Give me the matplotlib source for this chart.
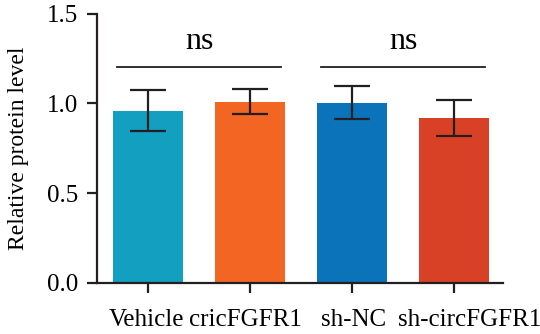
import matplotlib
matplotlib.use('Agg')
import matplotlib.pyplot as plt
import matplotlib.transforms as mtransforms
import numpy as np

# values
groups = ['Vehicle', 'cricFGFR1', 'sh-NC', 'sh-circFGFR1']
means = [0.96, 1.01, 1.005, 0.92]
errs = [0.115, 0.07, 0.093, 0.10]
colors = ['#139fc0', '#f26522', '#0b73b9', '#d94126']
brackets = [(0, 1, 'ns'), (2, 3, 'ns')]
bracket_y = 1.205

plt.rcParams['font.family'] = ['Liberation Serif', 'DejaVu Serif']

fig = plt.figure(figsize=(5.4, 3.34), dpi=100)
ax = fig.add_axes([0.179, 0.153, 0.752, 0.806])

x = np.arange(len(groups))
ax.bar(x, means, width=0.69, color=colors, zorder=2)
ax.errorbar(x, means, yerr=errs, fmt='none', ecolor='#231f20', elinewidth=1.6,
            capsize=13, capthick=1.6, zorder=3)

# significance brackets
for a, b, txt in brackets:
    ax.plot([a - 0.31, b + 0.30], [bracket_y, bracket_y], color='#231f20', lw=1.3)
    ax.text((a + b) / 2, bracket_y + 0.06, txt, ha='center', va='bottom', fontsize=23)

ax.set_xlim(-0.505, 3.475)
ax.set_ylim(0, 1.5)
ax.set_yticks([0, 0.5, 1.0, 1.5])
ax.set_yticklabels(['0.0', '0.5', '1.0', '1.5'])
ax.set_xticks(x)
ax.set_xticklabels(groups)
ax.set_ylabel('Relative protein level', fontsize=17, labelpad=13)

for side in ['top', 'right']:
    ax.spines[side].set_visible(False)
for side in ['left', 'bottom']:
    ax.spines[side].set_linewidth(1.6)
    ax.spines[side].set_color('#231f20')
ax.tick_params(axis='both', length=7, width=1.6, color='#231f20', labelsize=18)
ax.tick_params(axis='y', pad=6)
ax.tick_params(axis='x', pad=12)

# labels in the original are nudged a bit off their ticks
shifts = [-2, -5, 1, 15]
for lab, dx in zip(ax.get_xticklabels(), shifts):
    lab.set_transform(lab.get_transform() + mtransforms.ScaledTranslation(dx / 100, 0, fig.dpi_scale_trans))

fig.savefig('out.png', dpi=100)
